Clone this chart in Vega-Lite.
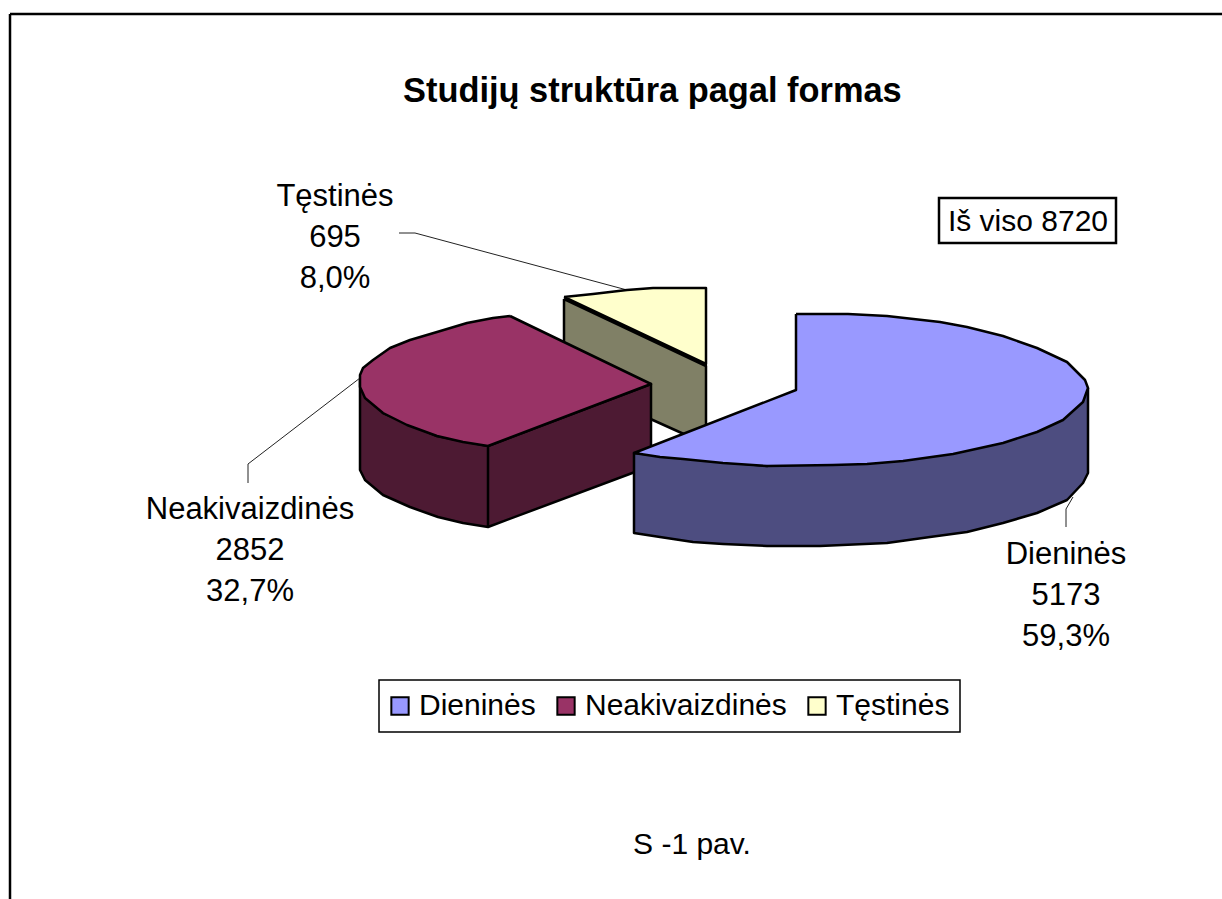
{"$schema":"https://vega.github.io/schema/vega-lite/v6.json","width":1222,"height":899,"padding":0,"autosize":{"type":"none"},"background":"white","view":{"stroke":null},
"title":{"text":"Studijų struktūra pagal formas","font":"Liberation Sans","fontSize":34.4,"fontWeight":"bold","color":"black","anchor":"start","frame":"group","orient":"top","offset":0,"dx":403,"dy":126,"baseline":"middle"},
"datasets":{
"outline":[
{"part":"Tęstinės šonas","i":1,"x":564,"y":299},{"part":"Tęstinės šonas","i":2,"x":706,"y":366},{"part":"Tęstinės šonas","i":3,"x":706,"y":444},{"part":"Tęstinės šonas","i":4,"x":564,"y":380},{"part":"Tęstinės šonas","i":5,"x":564,"y":299},
{"part":"Tęstinės","i":1,"x":564,"y":297},{"part":"Tęstinės","i":2,"x":593,"y":294},{"part":"Tęstinės","i":3,"x":627,"y":290},{"part":"Tęstinės","i":4,"x":653,"y":288},{"part":"Tęstinės","i":5,"x":706,"y":288},{"part":"Tęstinės","i":6,"x":706,"y":364},{"part":"Tęstinės","i":7,"x":564,"y":297},
{"part":"Neakivaizdinės šonas","i":1,"x":360,"y":380},{"part":"Neakivaizdinės šonas","i":2,"x":360,"y":470},{"part":"Neakivaizdinės šonas","i":3,"x":365,"y":480},{"part":"Neakivaizdinės šonas","i":4,"x":383,"y":495},{"part":"Neakivaizdinės šonas","i":5,"x":410,"y":507},{"part":"Neakivaizdinės šonas","i":6,"x":438,"y":517},{"part":"Neakivaizdinės šonas","i":7,"x":463,"y":523},{"part":"Neakivaizdinės šonas","i":8,"x":488,"y":527},{"part":"Neakivaizdinės šonas","i":9,"x":651,"y":466},{"part":"Neakivaizdinės šonas","i":10,"x":651,"y":384},{"part":"Neakivaizdinės šonas","i":11,"x":488,"y":446},{"part":"Neakivaizdinės šonas","i":12,"x":488,"y":527},{"part":"Neakivaizdinės šonas","i":13,"x":488,"y":446},{"part":"Neakivaizdinės šonas","i":14,"x":437,"y":436},{"part":"Neakivaizdinės šonas","i":15,"x":383,"y":413},{"part":"Neakivaizdinės šonas","i":16,"x":360,"y":380},
{"part":"Neakivaizdinės","i":1,"x":510,"y":316},{"part":"Neakivaizdinės","i":2,"x":493,"y":318},{"part":"Neakivaizdinės","i":3,"x":467,"y":323},{"part":"Neakivaizdinės","i":4,"x":437,"y":332},{"part":"Neakivaizdinės","i":5,"x":410,"y":340},{"part":"Neakivaizdinės","i":6,"x":390,"y":348},{"part":"Neakivaizdinės","i":7,"x":373,"y":360},{"part":"Neakivaizdinės","i":8,"x":363,"y":368},{"part":"Neakivaizdinės","i":9,"x":360,"y":375},{"part":"Neakivaizdinės","i":10,"x":360,"y":387},{"part":"Neakivaizdinės","i":11,"x":365,"y":398},{"part":"Neakivaizdinės","i":12,"x":383,"y":413},{"part":"Neakivaizdinės","i":13,"x":407,"y":425},{"part":"Neakivaizdinės","i":14,"x":437,"y":436},{"part":"Neakivaizdinės","i":15,"x":463,"y":442},{"part":"Neakivaizdinės","i":16,"x":488,"y":446},{"part":"Neakivaizdinės","i":17,"x":651,"y":384},{"part":"Neakivaizdinės","i":18,"x":510,"y":316},
{"part":"Dieninės šonas","i":1,"x":1088,"y":388},{"part":"Dieninės šonas","i":2,"x":1088,"y":473},{"part":"Dieninės šonas","i":3,"x":1083,"y":483},{"part":"Dieninės šonas","i":4,"x":1067,"y":500},{"part":"Dieninės šonas","i":5,"x":1037,"y":513},{"part":"Dieninės šonas","i":6,"x":1003,"y":523},{"part":"Dieninės šonas","i":7,"x":967,"y":532},{"part":"Dieninės šonas","i":8,"x":930,"y":537},{"part":"Dieninės šonas","i":9,"x":887,"y":543},{"part":"Dieninės šonas","i":10,"x":820,"y":546},{"part":"Dieninės šonas","i":11,"x":767,"y":546},{"part":"Dieninės šonas","i":12,"x":723,"y":544},{"part":"Dieninės šonas","i":13,"x":693,"y":542},{"part":"Dieninės šonas","i":14,"x":660,"y":537},{"part":"Dieninės šonas","i":15,"x":634,"y":533},{"part":"Dieninės šonas","i":16,"x":634,"y":453},{"part":"Dieninės šonas","i":17,"x":767,"y":466},{"part":"Dieninės šonas","i":18,"x":1088,"y":388},
{"part":"Dieninės","i":1,"x":796,"y":314},{"part":"Dieninės","i":2,"x":848,"y":314},{"part":"Dieninės","i":3,"x":887,"y":316},{"part":"Dieninės","i":4,"x":940,"y":322},{"part":"Dieninės","i":5,"x":967,"y":327},{"part":"Dieninės","i":6,"x":1003,"y":336},{"part":"Dieninės","i":7,"x":1037,"y":348},{"part":"Dieninės","i":8,"x":1067,"y":362},{"part":"Dieninės","i":9,"x":1085,"y":380},{"part":"Dieninės","i":10,"x":1088,"y":388},{"part":"Dieninės","i":11,"x":1083,"y":402},{"part":"Dieninės","i":12,"x":1063,"y":420},{"part":"Dieninės","i":13,"x":1037,"y":432},{"part":"Dieninės","i":14,"x":1003,"y":443},{"part":"Dieninės","i":15,"x":953,"y":454},{"part":"Dieninės","i":16,"x":903,"y":461},{"part":"Dieninės","i":17,"x":867,"y":464},{"part":"Dieninės","i":18,"x":833,"y":465},{"part":"Dieninės","i":19,"x":767,"y":466},{"part":"Dieninės","i":20,"x":723,"y":463},{"part":"Dieninės","i":21,"x":683,"y":459},{"part":"Dieninės","i":22,"x":660,"y":457},{"part":"Dieninės","i":23,"x":634,"y":453},{"part":"Dieninės","i":24,"x":796,"y":390},{"part":"Dieninės","i":25,"x":796,"y":314}
],
"leaders":[
{"form":"Tęstinės","i":1,"x":399,"y":233},{"form":"Tęstinės","i":2,"x":415,"y":233},{"form":"Tęstinės","i":3,"x":627,"y":290},
{"form":"Neakivaizdinės","i":1,"x":248,"y":483},{"form":"Neakivaizdinės","i":2,"x":248,"y":464},{"form":"Neakivaizdinės","i":3,"x":360,"y":378},
{"form":"Dieninės","i":1,"x":1066,"y":527},{"form":"Dieninės","i":2,"x":1066,"y":509},{"form":"Dieninės","i":3,"x":1073,"y":497}
],
"labels":[
{"label":"Dieninės\n5173\n59,3%","x":1066,"y":555,"size":31},
{"label":"Neakivaizdinės\n2852\n32,7%","x":250,"y":510,"size":31},
{"label":"Tęstinės\n695\n8,0%","x":335,"y":197,"size":31},
{"label":"S -1 pav.","x":692,"y":845,"size":30}
],
"frame":[{"x":10,"y":14,"x2":10,"y2":899},{"x":10,"y":14,"x2":1222,"y2":14}],
"box":[{"x":939,"y":198,"x2":1116,"y2":243,"label":"Iš viso 8720","tx":1028,"ty":222}],
"legendBox":[{"x":379,"y":680,"x2":960,"y2":732}]
},
"layer":[
{"data":{"name":"frame"},"mark":{"type":"rule","color":"black","strokeWidth":2.5},"encoding":{"x":{"field":"x","type":"quantitative","scale":{"domain":[0,1222],"nice":false,"zero":false},"axis":null},"y":{"field":"y","type":"quantitative","scale":{"domain":[899,0],"nice":false,"zero":false},"axis":null},"x2":{"field":"x2"},"y2":{"field":"y2"}}},
{"data":{"name":"leaders"},"mark":{"type":"line","color":"#222222","strokeWidth":1},"encoding":{"x":{"field":"x","type":"quantitative"},"y":{"field":"y","type":"quantitative"},"detail":{"field":"form"},"order":{"field":"i","type":"ordinal"}}},
{"data":{"name":"legendBox"},"mark":{"type":"rect","fill":"white","stroke":"black","strokeWidth":1.5},"encoding":{"x":{"field":"x","type":"quantitative"},"x2":{"field":"x2"},"y":{"field":"y","type":"quantitative"},"y2":{"field":"y2"}}},
{"data":{"name":"outline"},"mark":{"type":"line","stroke":"black","strokeWidth":2.5,"strokeJoin":"round","clip":false},"encoding":{"x":{"field":"x","type":"quantitative"},"y":{"field":"y","type":"quantitative"},"order":{"field":"i","type":"quantitative"},
"fill":{"field":"part","type":"nominal","scale":{"domain":["Dieninės","Neakivaizdinės","Tęstinės","Dieninės šonas","Neakivaizdinės šonas","Tęstinės šonas"],"range":["#9999FF","#993366","#FFFFCC","#4D4D80","#4D1A33","#808066"]},
"legend":{"values":["Dieninės","Neakivaizdinės","Tęstinės"],"title":null,"orient":"none","legendX":378,"legendY":684,"direction":"horizontal","columns":3,"symbolType":"square","symbolSize":300,"symbolStrokeColor":"black","symbolStrokeWidth":2,"labelFont":"Liberation Sans","labelFontSize":30,"labelColor":"black","labelLimit":300,"padding":7,"columnPadding":15,"labelOffset":4}}}},
{"data":{"name":"box"},"mark":{"type":"rect","fill":"white","stroke":"black","strokeWidth":2.5},"encoding":{"x":{"field":"x","type":"quantitative"},"x2":{"field":"x2"},"y":{"field":"y","type":"quantitative"},"y2":{"field":"y2"}}},
{"data":{"name":"box"},"mark":{"type":"text","font":"Liberation Sans","fontSize":30,"color":"black","baseline":"middle"},"encoding":{"x":{"field":"tx","type":"quantitative"},"y":{"field":"ty","type":"quantitative"},"text":{"field":"label"}}},
{"data":{"name":"labels"},"mark":{"type":"text","font":"Liberation Sans","color":"black","baseline":"middle","lineBreak":"\n","lineHeight":41},"encoding":{"x":{"field":"x","type":"quantitative"},"y":{"field":"y","type":"quantitative"},"text":{"field":"label"},"size":{"field":"size","type":"quantitative","scale":null}}}
]}
